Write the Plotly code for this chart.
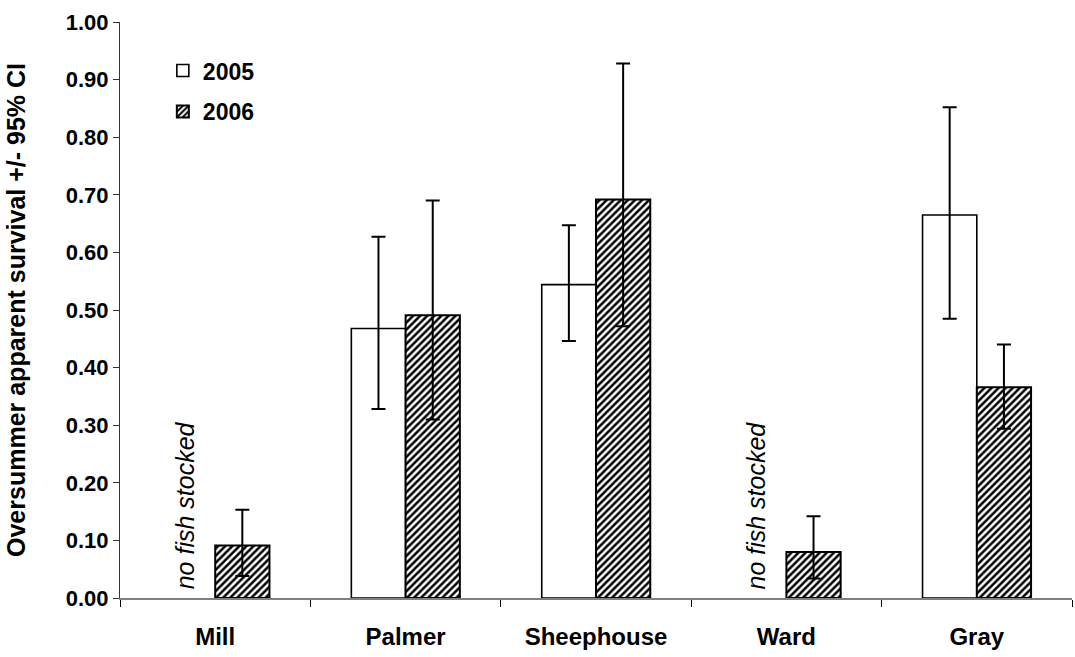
import plotly.graph_objects as go

sites = ["Mill", "Palmer", "Sheephouse", "Ward", "Gray"]
surv_2005 = [None, 0.468, 0.544, None, 0.665]
upper_2005 = [None, 0.627, 0.647, None, 0.852]
lower_2005 = [None, 0.328, 0.446, None, 0.485]
surv_2006 = [0.091, 0.491, 0.692, 0.080, 0.366]
upper_2006 = [0.153, 0.690, 0.928, 0.142, 0.440]
lower_2006 = [0.038, 0.310, 0.472, 0.034, 0.294]
y_ticks = [0.0, 0.1, 0.2, 0.3, 0.4, 0.5, 0.6, 0.7, 0.8, 0.9, 1.0]
note_sites = ["Mill", "Ward"]
note_text = "no fish stocked"


def err_plus(v, u):
    return [None if a is None else b - a for a, b in zip(v, u)]


def err_minus(v, l):
    return [None if a is None else a - b for a, b in zip(v, l)]


FONT = "Liberation Sans, Arial, sans-serif"

fig = go.Figure()
fig.add_trace(go.Bar(
    name="2005", x=sites, y=surv_2005,
    marker=dict(color="white", line=dict(color="black", width=1.6)),
    error_y=dict(type="data", symmetric=False,
                 array=err_plus(surv_2005, upper_2005),
                 arrayminus=err_minus(surv_2005, lower_2005),
                 color="black", thickness=2, width=7),
    legendgroup="a",
))
fig.add_trace(go.Bar(
    name="2006", x=sites, y=surv_2006,
    marker=dict(color="white",
                pattern=dict(shape="/", size=5, solidity=0.5,
                             fgcolor="black", bgcolor="white", fgopacity=1),
                line=dict(color="black", width=2)),
    error_y=dict(type="data", symmetric=False,
                 array=err_plus(surv_2006, upper_2006),
                 arrayminus=err_minus(surv_2006, lower_2006),
                 color="black", thickness=2, width=7),
    legendgroup="b",
))

for s in note_sites:
    fig.add_annotation(x=s, y=0.012, xref="x", yref="y", text=note_text,
                       showarrow=False, textangle=-90, xshift=-30,
                       yanchor="bottom", xanchor="center",
                       font=dict(family=FONT, size=25, color="black",
                                 style="italic", weight="normal"))

fig.update_layout(
    width=1075, height=657,
    margin=dict(l=120, r=3, t=22, b=59),
    paper_bgcolor="white", plot_bgcolor="white",
    barmode="group", bargap=0.43, bargroupgap=0,
    font=dict(family=FONT, size=20, color="black", weight="bold"),
    showlegend=True,
    legend=dict(x=0.045, y=0.953, xanchor="left", yanchor="top",
                traceorder="grouped", tracegroupgap=8,
                font=dict(family=FONT, size=23, color="black", weight="bold"),
                bgcolor="rgba(0,0,0,0)"),
    xaxis=dict(type="category", range=[-0.5, 4.5], showline=True,
               linecolor="#808080", linewidth=1.5, ticks="outside",
               tickson="boundaries", ticklen=7, tickcolor="black",
               ticklabelstandoff=16,
               tickfont=dict(family=FONT, size=24, weight="bold"),
               showgrid=False, zeroline=False),
    yaxis=dict(range=[0, 1.0], tickvals=y_ticks, tickformat=".2f",
               showline=True, linecolor="#333333", linewidth=1.2,
               ticks="outside", ticklen=6, tickcolor="#333333",
               tickfont=dict(family=FONT, size=22, weight="bold"),
               showgrid=False, zeroline=False, automargin=False,
               title=dict(text="Oversummer apparent survival +/- 95% CI",
                          font=dict(family=FONT, size=25, weight="bold"),
                          standoff=32)),
)

fig.write_html("out.html")
